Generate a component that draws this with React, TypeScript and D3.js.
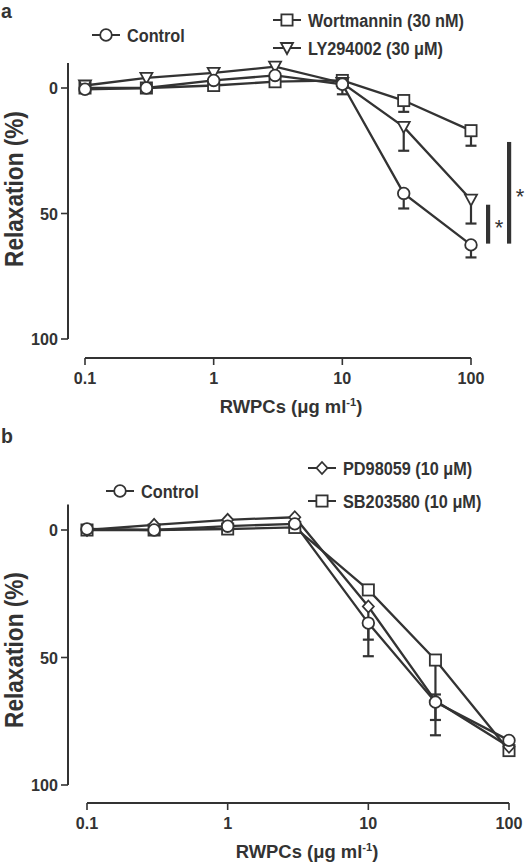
import React from "react";
import * as d3 from "d3";

// ---------- data ----------
const conc = [0.1, 0.3, 1, 3, 10, 30, 100];
const xTicks = [0.1, 1, 10, 100];
const xTickLabels = ["0.1", "1", "10", "100"];
const yTicks = [0, 50, 100];

// Panel a
const controlA = [0.5, 0, -3, -5, -1.5, 42, 62.5];
const controlAErr = [0, 0, 0, 0, 4, 6, 5];
const wortA = [0, 0, -1, -2.5, -3, 5, 17];
const wortAErr = [0, 0, 0, 0, 0, 4.5, 6];
const lyA = [-1, -4, -6, -8.5, -2, 15.5, 44.5];
const lyAErr = [0, 0, 0, 0, 2, 9.5, 9.5];
const sigA = [
  { from: 46.5, to: 62 },
  { from: 21.5, to: 62 },
];

// Panel b
const controlB = [-0.4, 0, -1.5, -2.4, 36.5, 67.5, 82.5];
const controlBErr = [0, 0, 0, 0, 13, 13, 0];
const pdB = [0, -2, -4, -5, 30, 67, 85];
const pdBErr = [0, 0, 0, 0, 13, 7.5, 0];
const sbB = [0, 0, -0.4, -1, 23.5, 51, 86.5];
const sbBErr = [0, 0, 0, 0, 0, 13.5, 0];

const FONT = "'Liberation Sans', Arial, Helvetica, sans-serif";
const INK = "#333";

type Shape = "circle" | "square" | "triDown" | "diamond";

function Marker({ shape, x, y, s = 1 }: { shape: Shape; x: number; y: number; s?: number }) {
  const common = { fill: "#fff", stroke: INK, strokeWidth: 1.8 };
  if (shape === "circle") return <circle cx={x} cy={y} r={5.8 * s} {...common} />;
  if (shape === "square")
    return <rect x={x - 5.6 * s} y={y - 5.6 * s} width={11.2 * s} height={11.2 * s} {...common} />;
  if (shape === "triDown")
    return <path d={`M${x - 6},${y - 5}L${x + 6},${y - 5}L${x},${y + 6}Z`} {...common} />;
  return <path d={`M${x},${y - 6}L${x + 5.5},${y}L${x},${y + 6}L${x - 5.5},${y}Z`} {...common} />;
}

function Txt({
  x, y, children, size, bold = true, anchor = "start", sx = 0.88, rotate = 0,
}: any) {
  return (
    <text
      transform={`translate(${x},${y}) rotate(${rotate}) scale(${sx},1)`}
      fontFamily={FONT}
      fontSize={size}
      fontWeight={bold ? "bold" : "normal"}
      fill={INK}
      textAnchor={anchor}
    >
      {children}
    </text>
  );
}

type Series = { name: string; shape: Shape; values: number[]; err: number[] };

function Panel({
  series, xRange, yRange, xAxisY, yAxisX, legend, titleX, yTitleY, letter, letterY, sig,
}: {
  series: Series[];
  xRange: [number, number];
  yRange: [number, number];
  xAxisY: number;
  yAxisX: number;
  legend: { idx: number; x: number; y: number }[];
  titleX: number;
  yTitleY: number;
  letter: string;
  letterY: number;
  sig?: { from: number; to: number }[];
}) {
  const x = d3.scaleLog().domain([0.1, 100]).range(xRange);
  const y = d3.scaleLinear().domain([0, 100]).range(yRange);
  const line = d3
    .line<number>()
    .x((_, i) => x(conc[i]))
    .y((d) => y(d));

  return (
    <g>
      <Txt x={1} y={letterY} size={19.5} sx={1}>{letter}</Txt>
      {/* y axis */}
      <line x1={yAxisX} x2={yAxisX} y1={y(-10)} y2={y(100)} stroke={INK} strokeWidth={2} />
      {yTicks.map((t) => (
        <g key={t}>
          <line x1={yAxisX - 7} x2={yAxisX} y1={y(t)} y2={y(t)} stroke={INK} strokeWidth={1.6} />
          <Txt x={yAxisX - 10} y={y(t) + 6} size={17} anchor="end" sx={0.95}>
            {String(t)}
          </Txt>
        </g>
      ))}
      <Txt x={23} y={yTitleY} size={26} rotate={-90} anchor="middle" sx={0.87}>
        Relaxation (%)
      </Txt>
      {/* x axis */}
      <line x1={xRange[0]} x2={xRange[1]} y1={xAxisY} y2={xAxisY} stroke={INK} strokeWidth={2} />
      {xTicks.map((t, i) => (
        <g key={t}>
          <line x1={x(t)} x2={x(t)} y1={xAxisY} y2={xAxisY + 7} stroke={INK} strokeWidth={1.6} />
          <Txt x={x(t)} y={xAxisY + 26} size={17} anchor="middle" sx={0.95}>
            {xTickLabels[i]}
          </Txt>
        </g>
      ))}
      <text
        transform={`translate(${titleX},${xAxisY + 55}) scale(0.97,1)`}
        fontFamily={FONT}
        fontSize={19}
        fontWeight="bold"
        fill={INK}
        textAnchor="middle"
      >
        RWPCs (μg ml
        <tspan fontSize={11.5} dy={-7}>-1</tspan>
        <tspan dy={7}>)</tspan>
      </text>
      {/* lines */}
      {series.map((s) => (
        <path key={s.name} d={line(s.values) || ""} fill="none" stroke={INK} strokeWidth={2.3} />
      ))}
      {/* error bars */}
      {series.map((s) =>
        s.values.map((v, i) =>
          s.err[i] > 0 ? (
            <g key={s.name + i} stroke={INK} strokeWidth={2.2}>
              <line x1={x(conc[i])} x2={x(conc[i])} y1={y(v)} y2={y(v + s.err[i])} />
              <line x1={x(conc[i]) - 5.5} x2={x(conc[i]) + 5.5} y1={y(v + s.err[i])} y2={y(v + s.err[i])} />
            </g>
          ) : null
        )
      )}
      {/* markers */}
      {series.map((s) =>
        s.values.map((v, i) => <Marker key={s.name + "m" + i} shape={s.shape} x={x(conc[i])} y={y(v)} />)
      )}
      {/* legend */}
      {legend.map((l) => {
        const s = series[l.idx];
        return (
          <g key={s.name}>
            <line x1={l.x - 14} x2={l.x + 14} y1={l.y} y2={l.y} stroke={INK} strokeWidth={2} />
            <Marker shape={s.shape} x={l.x} y={l.y} />
            <Txt x={l.x + 21} y={l.y + 6.5} size={18.5}>{s.name}</Txt>
          </g>
        );
      })}
      {/* significance */}
      {sig &&
        sig.map((b, i) => {
          const bx = xRange[1] + 17 + i * 21;
          return (
            <g key={i}>
              <rect x={bx - 2} y={y(b.from)} width={4.2} height={y(b.to) - y(b.from)} fill={INK} />
              <Txt x={bx + 11} y={(y(b.from) + y(b.to)) / 2 + 11} size={22} bold={false} anchor="middle" sx={1}>
                *
              </Txt>
            </g>
          );
        })}
    </g>
  );
}

export default function App() {
  const seriesA: Series[] = [
    { name: "Wortmannin (30 nM)", shape: "square", values: wortA, err: wortAErr },
    { name: "LY294002 (30 μM)", shape: "triDown", values: lyA, err: lyAErr },
    { name: "Control", shape: "circle", values: controlA, err: controlAErr },
  ];
  const seriesB: Series[] = [
    { name: "SB203580 (10 μM)", shape: "square", values: sbB, err: sbBErr },
    { name: "PD98059 (10 μM)", shape: "diamond", values: pdB, err: pdBErr },
    { name: "Control", shape: "circle", values: controlB, err: controlBErr },
  ];
  return (
    <svg
      width={529}
      height={863}
      style={{ position: "absolute", left: 0, top: 0, background: "#fff" }}
    >
      <rect width={529} height={863} fill="#fff" />
      <Panel
        series={seriesA}
        xRange={[85, 471]}
        yRange={[88, 339]}
        xAxisY={358}
        yAxisX={68}
        legend={[
          { idx: 2, x: 106, y: 35 },
          { idx: 0, x: 287, y: 20 },
          { idx: 1, x: 287, y: 48 },
        ]}
        titleX={291}
        yTitleY={189}
        letter="a"
        letterY={17.5}
        sig={sigA}
      />
      <Panel
        series={seriesB}
        xRange={[87, 509]}
        yRange={[530, 785]}
        xAxisY={803}
        yAxisX={68}
        legend={[
          { idx: 2, x: 120, y: 491 },
          { idx: 1, x: 322, y: 468 },
          { idx: 0, x: 322, y: 501 },
        ]}
        titleX={307}
        yTitleY={650}
        letter="b"
        letterY={443}
      />
    </svg>
  );
}
